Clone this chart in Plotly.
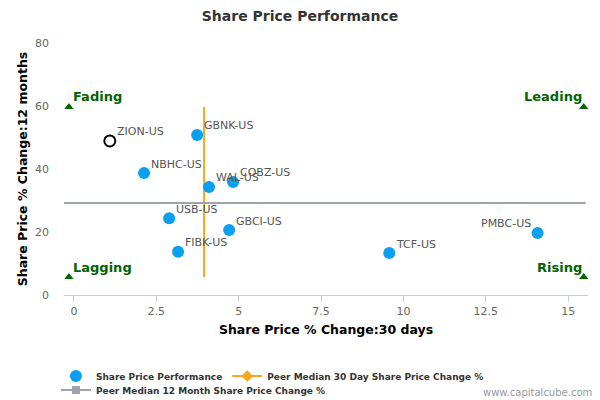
import plotly.graph_objects as go

# --- DATA ---
tickers = ["GBNK-US", "NBHC-US", "WAL-US", "COBZ-US", "USB-US",
           "GBCI-US", "FIBK-US", "TCF-US", "PMBC-US"]
chg_30d = [3.74, 2.13, 4.10, 4.83, 2.89, 4.71, 3.16, 9.57, 14.07]
chg_12m = [50.8, 38.7, 34.3, 35.9, 24.4, 20.6, 13.7, 13.3, 19.7]
label_side = ["right"] * 8 + ["left"]

# company being analysed (hollow marker)
focus_ticker = ["ZION-US"]
focus_30d = [1.09]
focus_12m = [48.9]

median_30d = 3.95
median_12m = 29.2

quad_names = ["Fading", "Lagging", "Leading", "Rising"]
quad_x = [-0.15, -0.15, 15.47, 15.47]
quad_y = [59.7, 5.7, 59.7, 5.7]
quad_side = ["right", "right", "left", "left"]

FONT = "DejaVu Sans"
BLUE = "#0aa0f0"
ORANGE = "#f7a71c"
GREY = "#9ea2ab"
GREEN = "#006400"

# the page body adds an 8px margin, so the figure is 8px smaller each way
W, H = 592, 392

fig = go.Figure()

# peer median lines
fig.add_trace(go.Scatter(
    x=[median_30d, median_30d], y=[quad_y[1], quad_y[0]],
    mode="lines", line=dict(color=ORANGE, width=2),
    showlegend=False, hoverinfo="skip"))
fig.add_trace(go.Scatter(
    x=[-0.3, 15.53], y=[median_12m, median_12m],
    mode="lines", line=dict(color=GREY, width=2),
    showlegend=False, hoverinfo="skip"))

# peers
fig.add_trace(go.Scatter(
    x=chg_30d, y=chg_12m, mode="markers",
    marker=dict(color=BLUE, size=12),
    name="Share Price Performance"))

# focus company
fig.add_trace(go.Scatter(
    x=focus_30d, y=focus_12m, mode="markers",
    marker=dict(color="white", size=11, line=dict(color="black", width=2)),
    showlegend=False))

# legend-only entries for the median lines
fig.add_trace(go.Scatter(
    x=[None], y=[None], mode="lines+markers",
    line=dict(color=ORANGE, width=2),
    marker=dict(symbol="diamond", size=9, color=ORANGE),
    name="Peer Median 30 Day Share Price Change %"))
fig.add_trace(go.Scatter(
    x=[None], y=[None], mode="lines+markers",
    line=dict(color=GREY, width=2),
    marker=dict(symbol="square", size=8, color=GREY),
    name="Peer Median 12 Month Share Price Change %", legend="legend2"))

# quadrant markers
fig.add_trace(go.Scatter(
    x=quad_x, y=quad_y, mode="markers",
    marker=dict(symbol="triangle-up", size=8, color=GREEN),
    showlegend=False, hoverinfo="skip"))

# point labels
for name, px_, py_, side in zip(tickers + focus_ticker, chg_30d + focus_30d,
                                chg_12m + focus_12m, label_side + ["right"]):
    fig.add_annotation(
        x=px_, y=py_, text=name, showarrow=False,
        xanchor="left" if side == "right" else "right", yanchor="middle",
        xshift=5 if side == "right" else -5, yshift=9,
        font=dict(family=FONT, size=11, color="#555555"))

# quadrant labels
for name, qx, qy, side in zip(quad_names, quad_x, quad_y, quad_side):
    fig.add_annotation(
        x=qx, y=qy, text="<b>" + name + "</b>", showarrow=False,
        xanchor="left" if side == "right" else "right", yanchor="middle",
        xshift=2 if side == "right" else 0, yshift=10,
        font=dict(family=FONT, size=13, color=GREEN))

legend_font = dict(family=FONT, size=9, color="#333333", weight="bold")

fig.update_layout(
    width=W, height=H,
    margin=dict(l=56, r=12, t=35, b=105),
    paper_bgcolor="white", plot_bgcolor="white",
    font=dict(family=FONT, size=11, color="#333333"),
    title=dict(text="<b>Share Price Performance</b>", x=292 / W, xanchor="center",
               y=1 - 8 / H, yanchor="middle",
               font=dict(family=FONT, size=14, color="#333333")),
    legend=dict(orientation="h", xref="container", x=0.081, xanchor="left",
                yref="container", y=1 - 368 / H, yanchor="middle",
                font=legend_font, itemwidth=30, tracegroupgap=0,
                bgcolor="rgba(0,0,0,0)"),
    legend2=dict(orientation="h", xref="container", x=0.081, xanchor="left",
                 yref="container", y=1 - 382 / H, yanchor="middle",
                 font=legend_font, itemwidth=30, tracegroupgap=0,
                 bgcolor="rgba(0,0,0,0)"),
    showlegend=True,
)

fig.update_xaxes(
    range=[-0.3, 15.6], tickvals=[0, 2.5, 5, 7.5, 10, 12.5, 15],
    ticktext=["0", "2.5", "5", "7.5", "10", "12.5", "15"],
    showgrid=False, zeroline=False, automargin=False,
    showline=True, linecolor="#c0d0e0", linewidth=1,
    ticks="outside", tickcolor="#c0d0e0", ticklen=6,
    tickfont=dict(family=FONT, size=11, color="#666666"),
    title=dict(text="Share Price % Change:30 days", standoff=8,
               font=dict(family=FONT, size=12.5, color="#000000", weight="bold")))

fig.update_yaxes(
    range=[0, 80], tickvals=[0, 20, 40, 60, 80],
    showgrid=False, zeroline=False, showline=False, automargin=False,
    ticklabelstandoff=14,
    tickfont=dict(family=FONT, size=11, color="#666666"),
    title=dict(text="Share Price % Change:12 months", standoff=4,
               font=dict(family=FONT, size=12.5, color="#000000", weight="bold")))

fig.add_annotation(
    text="www.capitalcube.com", xref="paper", yref="paper",
    x=1.0115, y=-0.385, xanchor="right", yanchor="middle", showarrow=False,
    font=dict(family=FONT, size=10, color="#999999"))

fig.write_html("out.html")
